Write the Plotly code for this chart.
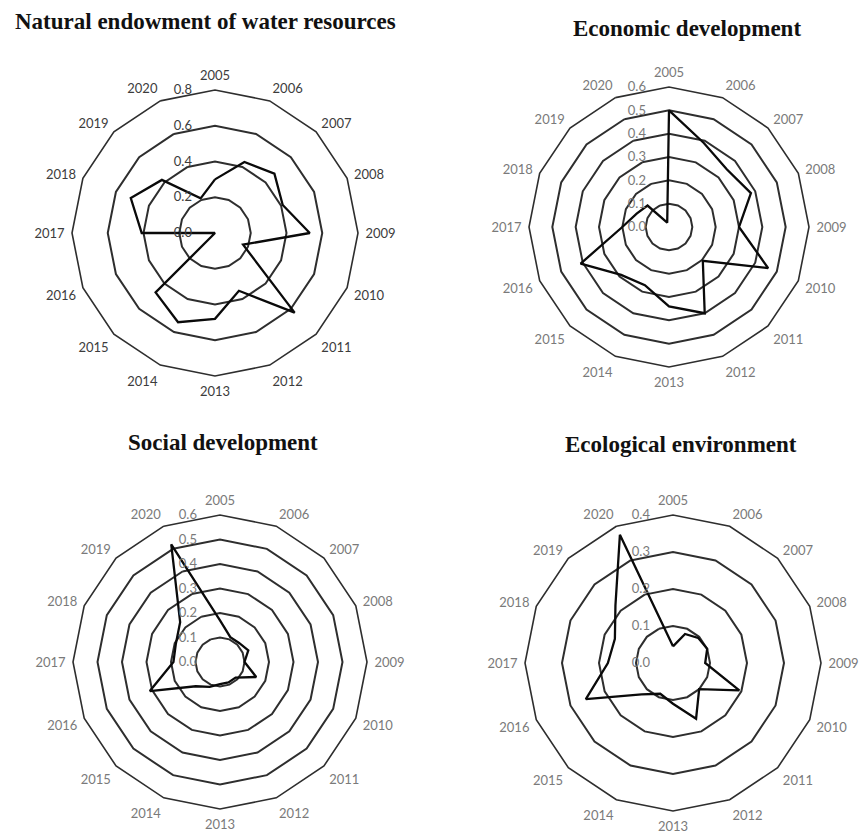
import plotly.graph_objects as go

# Categories (years) shared by all four radar panels
years = ["2005", "2006", "2007", "2008", "2009", "2010", "2011", "2012",
         "2013", "2014", "2015", "2016", "2017", "2018", "2019", "2020"]

# Index values per dimension
water_endowment = [0.30, 0.43, 0.47, 0.41, 0.53, 0.17, 0.63, 0.35,
                   0.48, 0.54, 0.47, 0.00, 0.41, 0.51, 0.42, 0.21]
economic_dev = [0.50, 0.39, 0.35, 0.38, 0.30, 0.46, 0.205, 0.40,
                0.34, 0.27, 0.29, 0.41, 0.20, 0.15, 0.13, 0.02]
social_dev = [0.17, 0.11, 0.11, 0.125, 0.10, 0.16, 0.09, 0.09,
              0.09, 0.11, 0.14, 0.31, 0.19, 0.195, 0.23, 0.52]
ecological_env = [0.045, 0.085, 0.096, 0.10, 0.087, 0.194, 0.10, 0.163,
                  0.11, 0.09, 0.12, 0.255, 0.176, 0.17, 0.22, 0.375]

titles = ["Natural endowment of water resources", "Economic development",
          "Social development", "Ecological environment"]
radial_max = [0.8, 0.6, 0.6, 0.4]
radial_step = [0.2, 0.1, 0.1, 0.1]
series = [water_endowment, economic_dev, social_dev, ecological_env]

W, H = 864, 839
# panel centres and radii in pixels
centres = [(215, 233, 143), (669, 227, 140), (220, 662, 147), (673, 663, 148)]
title_pos = [(205, 22), (687, 29), (223, 442), (681, 444)]
label_colors = ["#3c3c3c", "#7a7a7a", "#7a7a7a", "#7a7a7a"]
grid_color = "#2e2e2e"

fig = go.Figure()
layout = dict(
    width=W, height=H, paper_bgcolor="white", plot_bgcolor="white",
    margin=dict(l=0, r=0, t=0, b=0), showlegend=False, annotations=[],
)

for i, (vals, title) in enumerate(zip(series, titles)):
    name = "polar" if i == 0 else f"polar{i + 1}"
    cx, cy, r = centres[i]
    fig.add_trace(go.Scatterpolar(
        r=vals + [vals[0]], theta=years + [years[0]],
        mode="lines", line=dict(color="#0a0a0a", width=2.3),
        subplot=name, hoverinfo="skip",
    ))
    nticks = int(round(radial_max[i] / radial_step[i]))
    tickvals = [round(k * radial_step[i], 2) for k in range(nticks + 1)]
    layout[name] = dict(
        domain=dict(x=[(cx - r) / W, (cx + r) / W],
                    y=[(H - cy - r) / H, (H - cy + r) / H]),
        bgcolor="white",
        gridshape="linear",
        radialaxis=dict(
            range=[0, radial_max[i]], tickvals=tickvals, tickformat=".1f",
            angle=90, side="counterclockwise", showline=False,
            ticks="outside", ticklen=18, tickcolor="rgba(0,0,0,0)",
            tickangle=90,
            showgrid=True, gridcolor=grid_color, gridwidth=1.6,
            tickfont=dict(family="Lato", size=13, color=label_colors[i]),
        ),
        angularaxis=dict(
            categoryarray=years, type="category",
            rotation=90, direction="clockwise",
            showgrid=False, showline=True, linecolor=grid_color, linewidth=1.6,
            ticks="outside", ticklen=4, tickcolor="rgba(0,0,0,0)",
            tickfont=dict(family="Lato", size=13, color=label_colors[i]),
        ),
    )
    tx, ty = title_pos[i]
    layout["annotations"].append(dict(
        text=f"<b>{title}</b>", x=tx / W, y=1 - ty / H, xref="paper",
        yref="paper", xanchor="center", yanchor="middle", showarrow=False,
        font=dict(family="Liberation Serif", size=23, color="#111111"),
    ))

fig.update_layout(**layout)
fig.write_html("out.html")
